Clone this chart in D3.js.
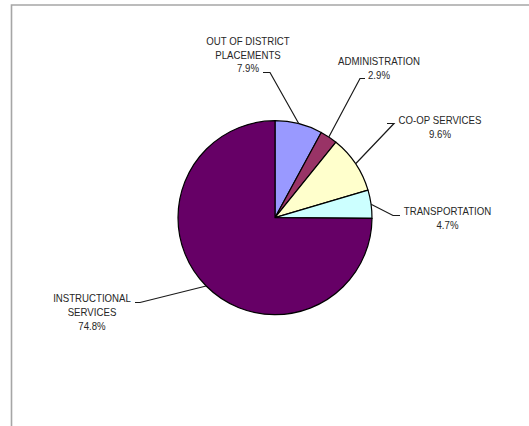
<!DOCTYPE html>
<html>
<head>
<meta charset="utf-8">
<script src="https://cdn.jsdelivr.net/npm/d3@7"></script>
<style>
  html, body { margin: 0; padding: 0; background: #fff; overflow: hidden; }
  svg { display: block; overflow: hidden; }
</style>
</head>
<body>
<script>
// Budget share by category
const categories = ["OUT OF DISTRICT\nPLACEMENTS", "ADMINISTRATION", "CO-OP SERVICES", "TRANSPORTATION", "INSTRUCTIONAL\nSERVICES"];
const shares = [7.9, 2.9, 9.6, 4.7, 74.8];
const sliceColors = ["#9999FF", "#993366", "#FFFFCC", "#CCFFFF", "#660066"];

// Label placement: text centre x, first baseline y, elbow of the leader line, end of its short horizontal run
const labelLayout = [
  { tx: 248, ty: 45,  ex: 270, ey: 72.5, hx: 263 },
  { tx: 379, ty: 65.5, ex: 360, ey: 78.5, hx: 365 },
  { tx: 440, ty: 124, ex: 394, ey: 123.5, hx: 387 },
  { tx: 447.5, ty: 215, ex: 393, ey: 215.5, hx: 400 },
  { tx: 92,  ty: 302.5, ex: 140, ey: 302.5, hx: 135 }
];

const W = 529, H = 426;
const cx = 275, cy = 217.7, R = 97;

const svg = d3.select("body").append("svg").attr("width", W).attr("height", H);

// frame: only its top and left edges fall inside the view
svg.append("path")
  .attr("d", d3.line()([[11.5, H], [11.5, 5], [W, 5]]))
  .attr("fill", "none")
  .attr("stroke", "#a6a6a6")
  .attr("stroke-width", 1.6);

const pie = d3.pie().sort(null).value(d => d)(shares);
const arc = d3.arc().innerRadius(0).outerRadius(R);

const g = svg.append("g").attr("transform", `translate(${cx},${cy})`);

g.selectAll("path.slice")
  .data(pie)
  .join("path")
  .attr("class", "slice")
  .attr("d", arc)
  .attr("fill", (d, i) => sliceColors[i])
  .attr("stroke", "#000")
  .attr("stroke-width", 1.2)
  .attr("stroke-linejoin", "round");

// leader lines from the slice edge to the label
const edge = d => {
  const a = (d.startAngle + d.endAngle) / 2;
  return [cx + R * Math.sin(a), cy - R * Math.cos(a)];
};

svg.selectAll("path.leader")
  .data(pie)
  .join("path")
  .attr("class", "leader")
  .attr("d", (d, i) => {
    const p = edge(d), L = labelLayout[i];
    return d3.line()([p, [L.ex, L.ey], [L.hx, L.ey]]);
  })
  .attr("fill", "none")
  .attr("stroke", "#1a1a1a")
  .attr("stroke-width", 1.2);

// category labels with percentage (slightly condensed type)
const labels = svg.selectAll("text.lbl")
  .data(pie)
  .join("text")
  .attr("class", "lbl")
  .attr("transform", (d, i) => `translate(${labelLayout[i].tx},0) scale(0.92,1)`)
  .attr("text-anchor", "middle")
  .attr("font-family", "Liberation Sans, Arial, sans-serif")
  .attr("font-size", "10.5px")
  .attr("fill", "#262626");

labels.each(function (d, i) {
  const L = labelLayout[i];
  const lines = categories[i].split("\n").concat([d3.format(".1f")(shares[i]) + "%"]);
  d3.select(this).selectAll("tspan")
    .data(lines)
    .join("tspan")
    .attr("x", 0)
    .attr("y", (t, k) => L.ty + k * 13.7)
    .text(t => t);
});
</script>
</body>
</html>
